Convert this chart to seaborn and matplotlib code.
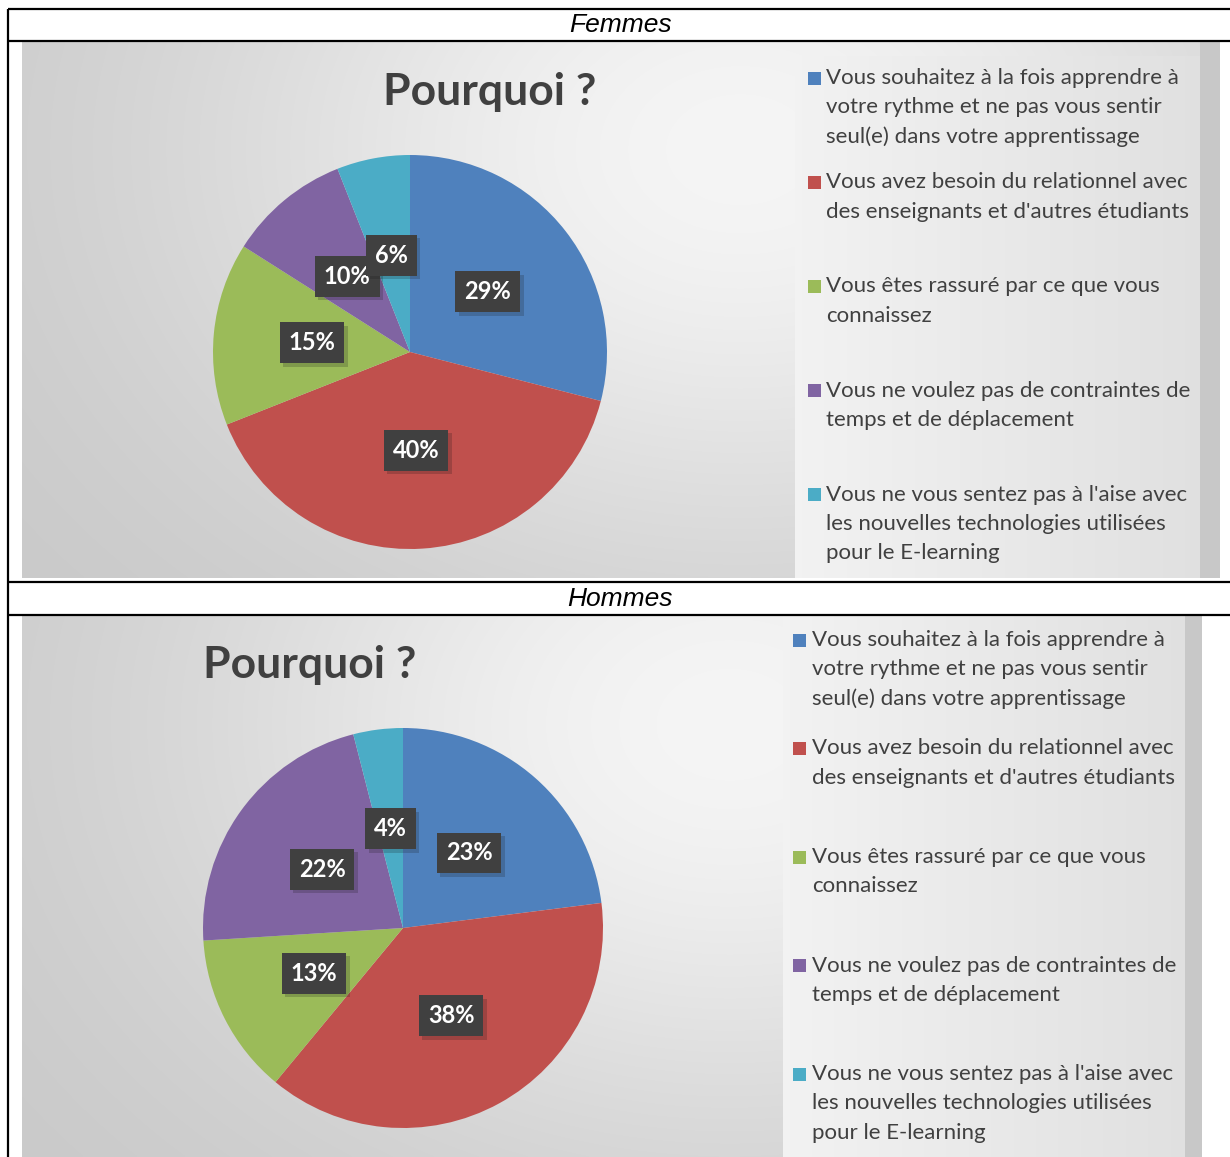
import numpy as np
import matplotlib
matplotlib.use("Agg")
import matplotlib.pyplot as plt
import matplotlib.patheffects as pe
from matplotlib.patches import Rectangle
import seaborn as sns

# données
categories = [
    "Vous souhaitez à la fois apprendre à\nvotre rythme et ne pas vous sentir\nseul(e) dans votre apprentissage",
    "Vous avez besoin du relationnel avec\ndes enseignants et d'autres étudiants",
    "Vous êtes rassuré par ce que vous\nconnaissez",
    "Vous ne voulez pas de contraintes de\ntemps et de déplacement",
    "Vous ne vous sentez pas à l'aise avec\nles nouvelles technologies utilisées\npour le E-learning",
]
femmes_values = [29, 40, 15, 10, 6]
hommes_values = [23, 38, 13, 22, 4]
groups = ["Femmes", "Hommes"]
chart_title = "Pourquoi ?"
slice_colors = ["#4F81BD", "#C0504D", "#9BBB59", "#8064A2", "#4BACC6"]

sns.set_theme(style="white")
palette = sns.color_palette(slice_colors)
plt.rcParams['font.family'] = ['Lato', 'DejaVu Sans']

W, H = 1230, 1157
fig = plt.figure(figsize=(W / 100, H / 100), dpi=100)
fig.patch.set_facecolor("white")

# calque en coordonnées pixels
ov = fig.add_axes([0, 0, 1, 1])
ov.set_xlim(0, W)
ov.set_ylim(H, 0)
ov.axis("off")


def to_rgb(v):
    return np.dstack([v, v, v])


def radial_bg(w, h, cx, cy):
    yy, xx = np.mgrid[0:1:h * 1j, 0:1:w * 1j]
    d2 = (xx - cx) ** 2 + ((yy - cy) * 0.6) ** 2
    return to_rgb(0.78 + 0.18 * np.exp(-d2 / 0.22))


def linear_bg(w, h, a, b):
    xx = np.linspace(0, 1, w)
    return to_rgb(np.tile(a + (b - a) * xx, (h, 1)))


panels = [
    dict(name=groups[0], values=femmes_values, header_y=25, top=42, bottom=578,
         right=1220, leg_left=795, leg_right=1200, leg_top=56,
         center=(410, 352), radius=197, title_xy=(490, 92),
         sq_x=808, text_x=826, first_y=78, step=104.2),
    dict(name=groups[1], values=hommes_values, header_y=599, top=616, bottom=1157,
         right=1202, leg_left=783, leg_right=1185, leg_top=616,
         center=(403, 928), radius=200, title_xy=(310, 665),
         sq_x=793, text_x=812, first_y=640, step=108.5),
]

for p in panels:
    left, top, bottom, right = 22, p["top"], p["bottom"], p["right"]
    # fond dégradé
    ov.imshow(radial_bg(600, 300, 0.6, 0.2),
              extent=(left, right, bottom, top), aspect="auto", zorder=1,
              interpolation="bilinear")
    # zone de légende
    ov.imshow(linear_bg(200, 10, 0.95, 0.88),
              extent=(p["leg_left"], p["leg_right"], bottom, p["leg_top"]),
              aspect="auto", zorder=2, interpolation="bilinear")
    ov.add_patch(Rectangle((p["leg_right"], top), right - p["leg_right"], bottom - top,
                           facecolor="#c8c8c8", edgecolor="none", zorder=2))
    ov.set_xlim(0, W)
    ov.set_ylim(H, 0)

    # en-tête
    ov.text(620, p["header_y"], p["name"], ha="center", va="center", fontsize=19,
            style="italic", family=["Liberation Sans", "DejaVu Sans"], color="black", zorder=5)

    # titre
    ov.text(p["title_xy"][0], p["title_xy"][1], chart_title, ha="center", va="center",
            fontsize=32, fontweight="bold", color="#404040", zorder=5)

    # légende
    for i, lab in enumerate(categories):
        y0 = p["first_y"] + i * p["step"]
        ov.add_patch(Rectangle((p["sq_x"], y0 - 6.5), 13, 13, facecolor=palette[i],
                               edgecolor="none", zorder=5))
        for j, line in enumerate(lab.split("\n")):
            ov.text(p["text_x"], y0 + j * 29.3, line, ha="left", va="center",
                    fontsize=16, color="#404040", zorder=5)

    # camembert
    cx, cy = p["center"]
    r = p["radius"]
    ax = fig.add_axes([(cx - r) / W, 1 - (cy + r) / H, 2 * r / W, 2 * r / H])
    ax.set_zorder(10)
    wedges, texts, autotexts = ax.pie(
        p["values"], colors=palette, startangle=90, counterclock=False,
        autopct=lambda v: f"{v:.0f}%", pctdistance=0.5, radius=1,
        wedgeprops=dict(linewidth=0))
    ax.set_xlim(-1, 1)
    ax.set_ylim(-1, 1)
    ax.set_aspect("auto")
    ax.axis("off")
    for t in autotexts:
        t.set_color("white")
        t.set_fontsize(17)
        t.set_fontweight("bold")
        t.set_bbox(dict(boxstyle="square,pad=0.38", facecolor="#404040", edgecolor="none"))
        t.get_bbox_patch().set_path_effects(
            [pe.SimplePatchShadow(offset=(2.5, -2.5), alpha=0.2), pe.Normal()])

# cadre du tableau
lw = 1.6
for y in [9, 41, 582, 615]:
    ov.plot([8, W], [y, y], color="black", lw=lw, zorder=6, solid_capstyle="butt")
ov.plot([8, 8], [9, H], color="black", lw=lw, zorder=6, solid_capstyle="butt")

fig.savefig("out.png", dpi=100)
